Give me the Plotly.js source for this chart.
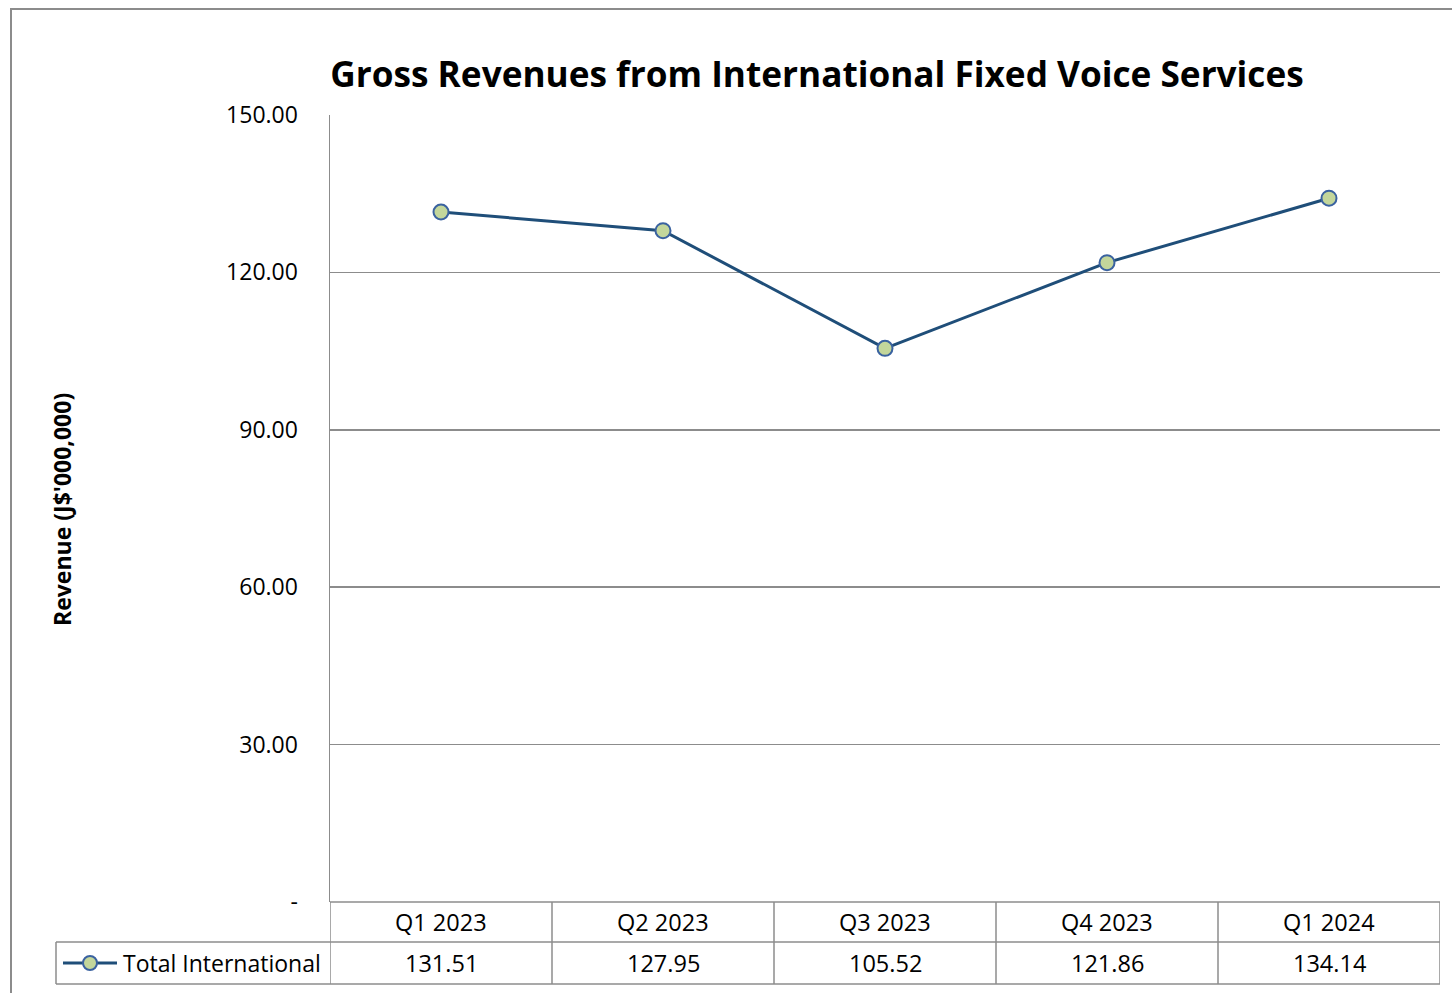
<!DOCTYPE html>
<html><head><meta charset="utf-8">
<script src="https://cdn.plot.ly/plotly-3.0.1.min.js"></script>
<style>body{margin:0;background:#fff}#c{width:1452px;height:993px}</style>
</head><body><div id="c"></div>
<script>
const categories = ["Q1 2023","Q2 2023","Q3 2023","Q4 2023","Q1 2024"];
const values = [131.51, 127.95, 105.52, 121.86, 134.14];
const seriesName = "Total International";
const yTickVals = [0, 30, 60, 90, 120, 150];
const yTickText = ["-", "30.00", "60.00", "90.00", "120.00", "150.00"];

const W = 1452, H = 993, L = 330, R = 12, T = 115, B = 91;
const pw = W - L - R, ph = H - T - B;
const px = x => (x - L) / pw;           // pixel -> paper x
const py = y => (H - B - y) / ph;       // pixel -> paper y

const lineCol = '#1f4e79', gridCol = '#8c8c8c', font = '"Open Sans", "Noto Sans", sans-serif';
const shapes = [];
const ann = [];
const gline = (x0,y0,x1,y1) => shapes.push({type:'line', xref:'paper', yref:'paper', x0, y0, x1, y1, line:{color:gridCol, width:1.5}});

// outer frame
shapes.push({type:'rect', xref:'paper', yref:'paper', x0:px(11), y0:py(9), x1:px(1470), y1:py(1010), line:{color:'#8c8c8c', width:2}, layer:'below'});

// data table lines
const rTop = py(902), rMid = py(942), rBot = py(984);
gline(0, rTop, 1, rTop);
gline(px(56), rMid, 1, rMid);
gline(px(56), rBot, 1, rBot);
gline(px(56), rMid, px(56), rBot);
for (let i = 0; i <= categories.length; i++) {
  shapes.push({type:'line', xref:'x', yref:'paper', x0:i-0.5, x1:i-0.5, y0:rTop, y1:rBot, line:{color:gridCol, width:1.5}});
}
const tf = {family:font, size:23.5, color:'#000'};
categories.forEach((c, i) => {
  ann.push({xref:'x', yref:'paper', x:i, y:(rTop+rMid)/2, text:c, showarrow:false, font:tf, yanchor:'middle'});
  ann.push({xref:'x', yref:'paper', x:i, y:(rMid+rBot)/2, text:values[i].toFixed(2), showarrow:false, font:tf, yanchor:'middle'});
});
// legend key
shapes.push({type:'line', xref:'paper', yref:'paper', x0:px(63), x1:px(117), y0:(rMid+rBot)/2, y1:(rMid+rBot)/2, line:{color:lineCol, width:3}});
shapes.push({type:'circle', xref:'paper', yref:'paper', x0:px(83), x1:px(97), y0:py(956), y1:py(970), fillcolor:'#c3d69b', line:{color:'#3a62a0', width:2}});
ann.push({xref:'paper', yref:'paper', x:px(121), y:(rMid+rBot)/2, text:seriesName, showarrow:false, xanchor:'left', yanchor:'middle', font:{family:font, size:23, color:'#000'}});
// y axis title
ann.push({xref:'paper', yref:'paper', x:px(62), y:py(510), text:"<b>Revenue (J$'000,000)</b>", textangle:-90, showarrow:false, xanchor:'center', yanchor:'middle', font:{family:font, size:23, color:'#000'}});

const trace = {
  x: categories, y: values, type:'scatter', mode:'lines+markers', name:seriesName,
  line:{color:lineCol, width:3},
  marker:{size:15, color:'#c3d69b', line:{color:'#3a62a0', width:2}},
  cliponaxis:false
};

const layout = {
  width:W, height:H, margin:{l:L, r:R, t:T, b:B},
  paper_bgcolor:'#fff', plot_bgcolor:'#fff', showlegend:false,
  title:{text:'<b>Gross Revenues from International Fixed Voice Services</b>', font:{family:font, size:35.2, color:'#000'}, xref:'container', yref:'container', x:817/W, y:1-75/H, xanchor:'center', yanchor:'middle'},
  xaxis:{type:'category', range:[-0.5, 4.5], showticklabels:false, showgrid:false, zeroline:false, showline:false, ticks:''},
  yaxis:{range:[0,150], tickvals:yTickVals, ticktext:yTickText, showgrid:true, gridcolor:gridCol, gridwidth:1.5, zeroline:false,
         showline:true, linecolor:gridCol, linewidth:1.5, ticks:'', ticklabelstandoff:26,
         tickfont:{family:font, size:23, color:'#000'}},
  shapes, annotations:ann
};
Plotly.newPlot('c', [trace], layout, {displayModeBar:false, staticPlot:true});
</script></body></html>
